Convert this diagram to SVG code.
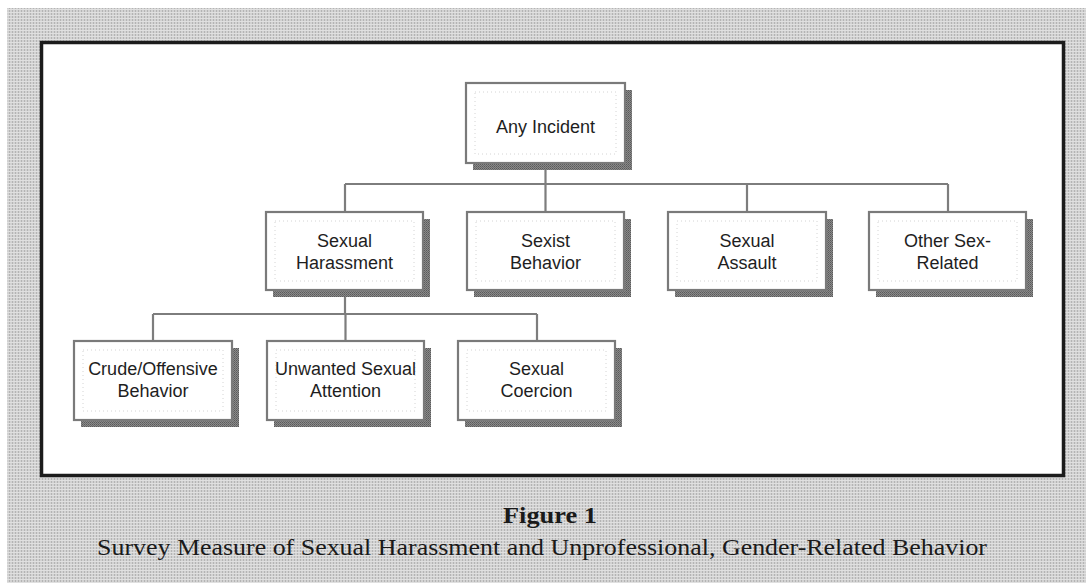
<svg xmlns="http://www.w3.org/2000/svg" width="1086" height="583" viewBox="0 0 1086 583">
  <defs>
    <pattern id="ht" width="3" height="3" patternUnits="userSpaceOnUse">
      <rect width="3" height="3" fill="#d2d2d2"/>
      <rect width="1" height="3" fill="#b4b4b4"/>
      <rect width="3" height="1" fill="#e0e0e0"/>
    </pattern>
    <pattern id="sh" width="2" height="2" patternUnits="userSpaceOnUse">
      <rect width="2" height="2" fill="#8a8a8a"/>
      <rect width="1" height="1" fill="#5a5a5a"/>
      <rect x="1" y="1" width="1" height="1" fill="#6a6a6a"/>
    </pattern>
  </defs>
  <style>
    .shadow { fill: url(#sh); }
    .box { fill: #ffffff; stroke: #7a7a7a; stroke-width: 2.2; }
    .inner { fill: none; stroke: #d4d4d4; stroke-width: 1; stroke-dasharray: 1 3; }
    .lbl { font-family: "Liberation Sans", Arial, sans-serif; font-size: 18px; fill: #1e1e1e; text-anchor: middle; }
    .conn { stroke: #7d7d7d; stroke-width: 2.2; fill: none; }
    .cap { font-family: "Liberation Serif", "Times New Roman", serif; fill: #1a1a1a; text-anchor: middle; }
  </style>

  <rect x="0" y="0" width="1086" height="583" fill="#ffffff"/>
  <rect x="7" y="8" width="1079" height="575" fill="url(#ht)"/>
  <rect x="41.5" y="42.5" width="1022" height="433" fill="#ffffff" stroke="#1c1c1c" stroke-width="3.5"/>

  <g id="connectors">
    <path class="conn" d="M545.5 170 V184 M345 184 H948 M345 184 V212 M545.5 184 V212 M747 184 V212 M948 184 V212"/>
    <path class="conn" d="M345 297 V314 M153 314 H537 M153 314 V341 M345.5 314 V341 M537 314 V341"/>
  </g>

  <g id="n-any">
    <rect class="shadow" x="473" y="90" width="159" height="80"/>
    <rect class="box" x="466" y="83" width="159" height="80"/>
    <rect class="inner" x="475" y="92" width="141" height="62"/>
    <text class="lbl" x="545.5" y="133">Any Incident</text>
  </g>

  <g id="n-harass">
    <rect class="shadow" x="273" y="219" width="157" height="78"/>
    <rect class="box" x="266" y="212" width="157" height="78"/>
    <rect class="inner" x="275" y="221" width="139" height="60"/>
    <text class="lbl" x="344.5" y="247">Sexual</text>
    <text class="lbl" x="344.5" y="269">Harassment</text>
  </g>

  <g id="n-sexist">
    <rect class="shadow" x="474" y="219" width="157" height="78"/>
    <rect class="box" x="467" y="212" width="157" height="78"/>
    <rect class="inner" x="476" y="221" width="139" height="60"/>
    <text class="lbl" x="545.5" y="247">Sexist</text>
    <text class="lbl" x="545.5" y="269">Behavior</text>
  </g>

  <g id="n-assault">
    <rect class="shadow" x="675" y="219" width="158" height="78"/>
    <rect class="box" x="668" y="212" width="158" height="78"/>
    <rect class="inner" x="677" y="221" width="140" height="60"/>
    <text class="lbl" x="747" y="247">Sexual</text>
    <text class="lbl" x="747" y="269">Assault</text>
  </g>

  <g id="n-other">
    <rect class="shadow" x="876" y="219" width="157" height="78"/>
    <rect class="box" x="869" y="212" width="157" height="78"/>
    <rect class="inner" x="878" y="221" width="139" height="60"/>
    <text class="lbl" x="947.5" y="247">Other Sex-</text>
    <text class="lbl" x="947.5" y="269">Related</text>
  </g>

  <g id="n-crude">
    <rect class="shadow" x="81" y="348" width="158" height="79"/>
    <rect class="box" x="74" y="341" width="158" height="79"/>
    <rect class="inner" x="83" y="350" width="140" height="61"/>
    <text class="lbl" x="153" y="375">Crude/Offensive</text>
    <text class="lbl" x="153" y="397">Behavior</text>
  </g>

  <g id="n-unwanted">
    <rect class="shadow" x="274" y="348" width="157" height="79"/>
    <rect class="box" x="267" y="341" width="157" height="79"/>
    <rect class="inner" x="276" y="350" width="139" height="61"/>
    <text class="lbl" x="345.5" y="375">Unwanted Sexual</text>
    <text class="lbl" x="345.5" y="397">Attention</text>
  </g>

  <g id="n-coercion">
    <rect class="shadow" x="465" y="348" width="157" height="79"/>
    <rect class="box" x="458" y="341" width="157" height="79"/>
    <rect class="inner" x="467" y="350" width="139" height="61"/>
    <text class="lbl" x="536.5" y="375">Sexual</text>
    <text class="lbl" x="536.5" y="397">Coercion</text>
  </g>

  <g id="caption">
    <text class="cap" x="550" y="523" font-size="24" font-weight="bold" textLength="94" lengthAdjust="spacingAndGlyphs">Figure 1</text>
    <text class="cap" x="542" y="555" font-size="24" textLength="890" lengthAdjust="spacingAndGlyphs">Survey Measure of Sexual Harassment and Unprofessional, Gender-Related Behavior</text>
  </g>
</svg>
